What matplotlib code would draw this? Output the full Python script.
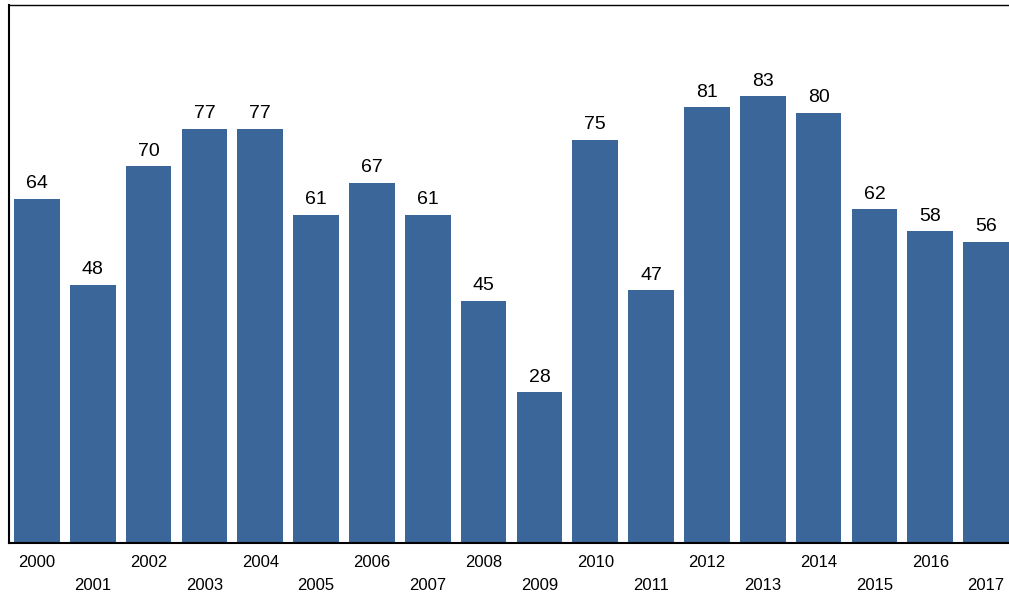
import matplotlib
matplotlib.use("Agg")
import matplotlib.pyplot as plt

years = [str(y) for y in range(2000, 2018)]
values = [64, 48, 70, 77, 77, 61, 67, 61, 45, 28, 75, 47, 81, 83, 80, 62, 58, 56]

fig = plt.figure(figsize=(10.09, 5.99), dpi=100)
ax = fig.add_axes([9/1009, 1-543/599, 1000/1009, 538/599])
x = list(range(len(years)))
ax.bar(x, values, width=0.82, color="#3b6699")
for xi, v in zip(x, values):
    ax.text(xi, v + 1.2, str(v), ha="center", va="bottom", fontsize=14, family="Liberation Sans")
for xi, y in zip(x, years):
    off = 0.037 if xi % 2 == 0 else 0.079
    ax.text(xi, -off, y, transform=ax.get_xaxis_transform(), ha="center", va="center",
            fontsize=12, family="Liberation Sans")
ax.set_xlim(-0.5, 17.41)
ax.set_ylim(0, 100)
ax.set_xticks([]); ax.set_yticks([])
ax.spines["right"].set_visible(False)
ax.spines["left"].set_linewidth(1.5)
ax.spines["bottom"].set_linewidth(1.5)
ax.spines["top"].set_linewidth(1)
fig.savefig("out.png", dpi=100)
